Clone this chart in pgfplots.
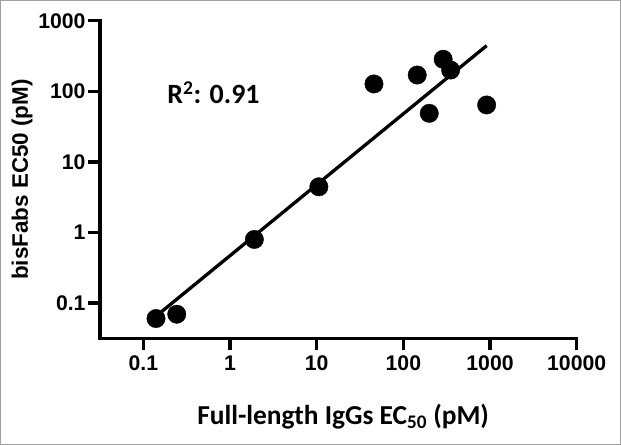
\documentclass[border=0pt]{standalone}
\usepackage{fontspec}
\setmainfont{Liberation Sans}
\newfontfamily\calibri{Carlito}
\usepackage{pgfplots}
\pgfplotsset{compat=1.18}
\begin{document}
\begin{tikzpicture}
\useasboundingbox (0,0) rectangle (621bp,445bp);
\draw[gray!75, line width=1.2bp] (0.6bp,0.6bp) rectangle (620.4bp,444.4bp);
\begin{axis}[
  at={(100bp,106.7bp)}, anchor=south west,
  scale only axis, width=476.7bp, height=317.6bp,
  xmode=log, ymode=log,
  xmin=0.0316228, xmax=10000, ymin=0.0316228, ymax=1000,
  axis lines*=left,
  axis line style={line width=3.3bp, line cap=rect},
  every tick/.style={black, line width=3.3bp},
  tick align=outside, major tick length=12bp,
  xminorticks=false, yminorticks=false,
  xtick={0.1,1,10,100,1000,10000},
  xticklabels={0.1,1,10,100,1000,10000},
  ytick={0.1,1,10,100,1000},
  yticklabels={0.1,1,10,100,1000},
  /pgf/number format/assume math mode=true,
  tick label style={font=\bfseries\fontsize{21.3}{24}\selectfont},
  xticklabel style={yshift=-2bp},
  yticklabel style={xshift=1bp},
  clip=false,
  xlabel={\calibri\bfseries\fontsize{27.5}{30}\selectfont Full-length IgGs EC\textsubscript{50} (pM)},
  ylabel={\bfseries\fontsize{22.5}{26}\selectfont bisFabs EC50 (pM)},
  xlabel style={at={([yshift=-78.7bp]axis description cs:0.51,0)}, anchor=center},
  ylabel style={at={([xshift=-78bp]axis description cs:0,0.5)}, anchor=center},
]
\addplot[no marks, black, line width=3.3bp] coordinates {(0.14,0.065) (914,443)};
\addplot[only marks, mark=*, mark size=9.2bp, black] coordinates {
(0.140,0.0603)
(0.243,0.0694)
(1.91,0.796)
(10.6,4.43)
(45.8,127)
(144.6,170)
(199,48.7)
(288,284)
(351,200)
(914,64)
};
\node[anchor=center] at (axis cs:0.645,94.6) {\calibri\bfseries\fontsize{28}{30}\selectfont R\textsuperscript{2}: 0.91};
\end{axis}
\end{tikzpicture}
\end{document}
